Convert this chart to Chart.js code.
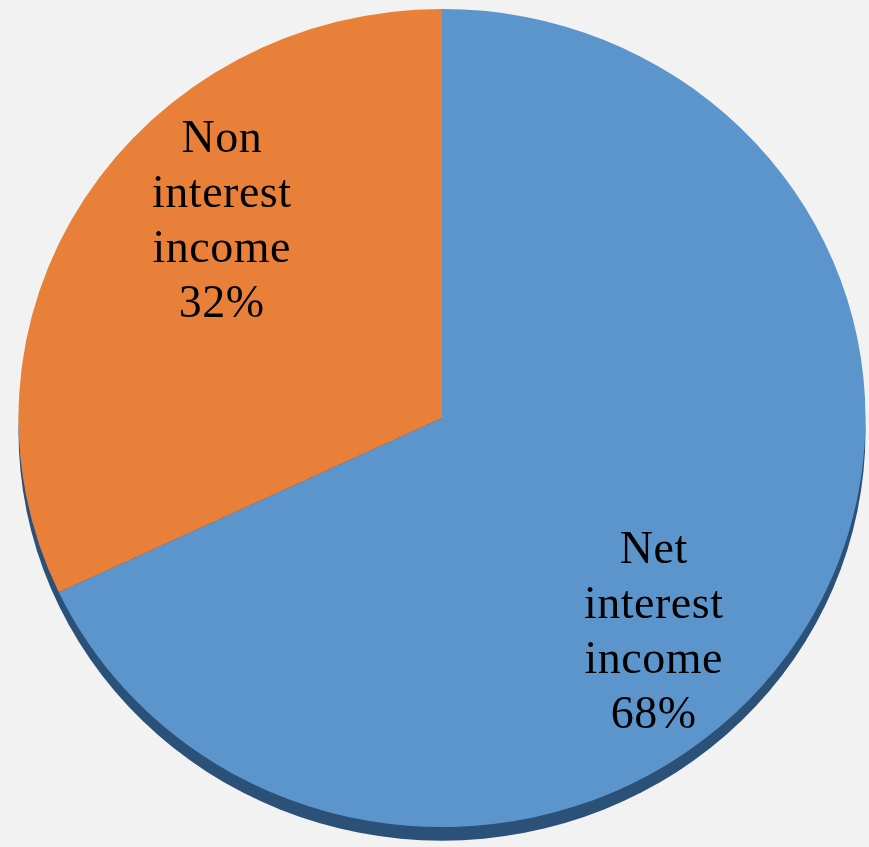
<!DOCTYPE html>
<html>
<head>
<meta charset="utf-8">
<script src="https://cdn.jsdelivr.net/npm/chart.js@4"></script>
<style>
    html, body { margin: 0; padding: 0; background: #f2f2f2; overflow: hidden; }
    #wrap { width: 869px; height: 847px; }
</style>
</head>
<body>
<div id="wrap"><canvas id="incomeChart"></canvas></div>
<script>
// Income composition
const labels = ['Net interest income', 'Non interest income'];
const shares = [68, 32];
const labelLines = [
    ['Net', 'interest', 'income', '68%'],
    ['Non', 'interest', 'income', '32%']
];
const sliceColors = ['#5b95cc', '#e8803a'];

// Squash the pie into a slightly tilted ellipse and give it a dark rim
const tiltPlugin = {
    id: 'tilt',
    beforeDatasetsDraw(chart, args, opts) {
        const arc = chart.getDatasetMeta(0).data[0];
        const ctx = chart.ctx;
        ctx.save();
        ctx.translate(arc.x, opts.centerY);
        ctx.scale(1, opts.scaleY);
        ctx.translate(-arc.x, -arc.y);
        // rim / depth
        ctx.beginPath();
        ctx.arc(arc.x, arc.y + opts.depth, arc.outerRadius, 0, Math.PI * 2);
        ctx.fillStyle = '#2b5179';
        ctx.fill();
    },
    afterDatasetsDraw(chart) {
        chart.ctx.restore();
    }
};

// Multi-line labels placed relative to the pie centre
const sliceLabelPlugin = {
    id: 'sliceLabels',
    afterDraw(chart, args, opts) {
        const arc = chart.getDatasetMeta(0).data[0];
        const centerY = chart.options.plugins.tilt.centerY;
        const ctx = chart.ctx;
        ctx.save();
        ctx.font = opts.font;
        ctx.letterSpacing = '0.5px';
        ctx.fillStyle = '#000';
        ctx.textAlign = 'center';
        ctx.textBaseline = 'middle';
        labelLines.forEach((lines, i) => {
            const cx = arc.x + opts.offsets[i][0] * arc.outerRadius;
            const cy = centerY + opts.offsets[i][1] * arc.outerRadius;
            const top = cy - (lines.length - 1) * opts.lineHeight / 2;
            lines.forEach((t, j) => ctx.fillText(t, cx, top + j * opts.lineHeight));
        });
        ctx.restore();
    }
};

const ctx = document.getElementById('incomeChart').getContext('2d');
const incomeChart = new Chart(ctx, {
    type: 'pie',
    data: {
        labels: labels,
        datasets: [{
            data: shares,
            backgroundColor: sliceColors,
            borderWidth: 0,
            hoverOffset: 0
        }]
    },
    options: {
        responsive: true,
        maintainAspectRatio: false,
        animation: false,
        events: [],
        layout: { padding: { left: 15, right: 0, top: 0, bottom: 0 } },
        plugins: {
            legend: { display: false },
            tooltip: { enabled: false },
            tilt: { centerY: 418, scaleY: 0.966, depth: 14 },
            sliceLabels: {
                font: '46px "Liberation Serif", "Times New Roman", serif',
                lineHeight: 55,
                offsets: [[0.50, 0.508], [-0.52, -0.461]]
            }
        }
    },
    plugins: [tiltPlugin, sliceLabelPlugin]
});
</script>
</body>
</html>
